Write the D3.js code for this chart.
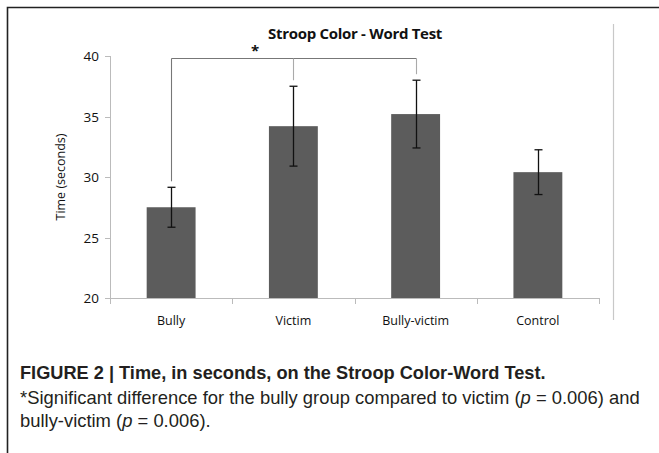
<!DOCTYPE html>
<html>
<head>
<meta charset="utf-8">
<script src="https://cdn.jsdelivr.net/npm/d3@7"></script>
<style>
  body { margin: 0; background: #fff; }
  svg { display: block; }
</style>
</head>
<body>
<script>
  const groups = ["Bully", "Victim", "Bully-victim", "Control"];
  const means = [27.5, 34.2, 35.2, 30.4];
  const errors = [1.65, 3.3, 2.8, 1.85];
  const yTicks = [20, 25, 30, 35, 40];
  // significance bracket: bully vs victim and bully-victim
  const sigFrom = "Bully";
  const sigTo = ["Victim", "Bully-victim"];

  const width = 659, height = 453;
  const svg = d3.select("body").append("svg")
    .attr("width", width)
    .attr("height", height);

  // frame
  svg.append("path")
    .attr("d", "M7.5,453V7.5H659")
    .attr("fill", "none")
    .attr("stroke", "#222")
    .attr("stroke-width", 1.6);

  svg.append("line")
    .attr("x1", 613.5).attr("x2", 613.5)
    .attr("y1", 24).attr("y2", 320)
    .attr("stroke", "#c8c8c8")
    .attr("stroke-width", 1.2);

  const x = d3.scaleBand()
    .domain(groups)
    .range([110, 599])
    .paddingInner(0.6)
    .paddingOuter(0.3);

  const y = d3.scaleLinear()
    .domain([20, 40])
    .range([298, 56]);

  const font = "'Open Sans', sans-serif";

  // title
  svg.append("text")
    .attr("x", 355).attr("y", 39)
    .attr("text-anchor", "middle")
    .style("font", `bold 15px ${font}`)
    .style("letter-spacing", "-0.3px")
    .attr("fill", "#111")
    .text("Stroop Color - Word Test");

  // y axis
  svg.append("line")
    .attr("x1", 110.5).attr("x2", 110.5)
    .attr("y1", y(40)).attr("y2", y(20))
    .attr("stroke", "#bbb");
  const yt = svg.append("g").selectAll("g").data(yTicks).join("g")
    .attr("transform", d => `translate(0,${Math.round(y(d)) + 0.5})`);
  yt.append("line").attr("x1", 105).attr("x2", 110.5).attr("stroke", "#bbb");
  yt.append("text")
    .attr("x", 99).attr("dy", "0.35em")
    .attr("text-anchor", "end")
    .style("font", `13.5px ${font}`)
    .attr("fill", "#111")
    .text(d => d);

  svg.append("text")
    .attr("transform", `translate(65,${(y(40) + y(20)) / 2}) rotate(-90)`)
    .attr("text-anchor", "middle")
    .style("font", `12.5px ${font}`)
    .attr("fill", "#111")
    .text("Time (seconds)");

  // x axis
  svg.append("line")
    .attr("x1", 110).attr("x2", 599)
    .attr("y1", 298.5).attr("y2", 298.5)
    .attr("stroke", "#bbb");
  const step = x.step();
  svg.append("g").selectAll("line")
    .data(d3.range(groups.length + 1))
    .join("line")
    .attr("x1", i => Math.round(110 + i * step) + 0.5)
    .attr("x2", i => Math.round(110 + i * step) + 0.5)
    .attr("y1", 298).attr("y2", 304)
    .attr("stroke", "#bbb");

  svg.append("g").selectAll("text")
    .data(groups)
    .join("text")
    .attr("x", d => x(d) + x.bandwidth() / 2)
    .attr("y", 325)
    .attr("text-anchor", "middle")
    .style("font", `12.5px ${font}`)
    .attr("fill", "#111")
    .text(d => d);

  // bars
  const rows = groups.map((g, i) => ({ g, m: means[i], e: errors[i] }));
  svg.append("g").selectAll("rect")
    .data(rows)
    .join("rect")
    .attr("x", d => x(d.g))
    .attr("y", d => y(d.m))
    .attr("width", x.bandwidth())
    .attr("height", d => y(20) - y(d.m))
    .attr("fill", "#5c5c5c");

  // error bars
  const eb = svg.append("g").attr("stroke", "#111").attr("stroke-width", 1.3);
  rows.forEach(d => {
    const cx = Math.round(x(d.g) + x.bandwidth() / 2) + 0.5;
    eb.append("line").attr("x1", cx).attr("x2", cx)
      .attr("y1", y(d.m + d.e)).attr("y2", y(d.m - d.e));
    [d.m + d.e, d.m - d.e].forEach(v => {
      eb.append("line").attr("x1", cx - 4).attr("x2", cx + 4)
        .attr("y1", y(v)).attr("y2", y(v));
    });
  });

  // significance bracket
  const cxOf = g => Math.round(x(g) + x.bandwidth() / 2) + 0.5;
  const topOf = g => { const i = groups.indexOf(g); return y(means[i] + errors[i]); };
  const by = Math.round(y(39.85)) + 0.5;
  const lastTo = sigTo[sigTo.length - 1];
  svg.append("line")
    .attr("x1", cxOf(sigFrom)).attr("x2", cxOf(lastTo))
    .attr("y1", by).attr("y2", by)
    .attr("stroke", "#777").attr("stroke-width", 1.1);
  [sigFrom].concat(sigTo).forEach(g => {
    svg.append("line")
      .attr("x1", cxOf(g)).attr("x2", cxOf(g))
      .attr("y1", by).attr("y2", topOf(g) - 6)
      .attr("stroke", g === sigFrom ? "#777" : "#aaa")
      .attr("stroke-width", 1.1);
  });
  svg.append("text")
    .attr("x", 255).attr("y", 56)
    .attr("text-anchor", "middle")
    .style("font", `bold 15px ${font}`)
    .attr("fill", "#111")
    .text("*");

  // caption
  const capFont = "'Liberation Sans', Arial, sans-serif";
  const cap = svg.append("g").attr("fill", "#231f20");
  cap.append("text")
    .attr("x", 20).attr("y", 379)
    .style("font", `bold 18.2px ${capFont}`)
    .text("FIGURE 2 | Time, in seconds, on the Stroop Color-Word Test.");
  const l2 = cap.append("text")
    .attr("x", 20).attr("y", 404)
    .style("font", `18.4px ${capFont}`);
  l2.append("tspan").text("*Significant difference for the bully group compared to victim (");
  l2.append("tspan").style("font-style", "italic").text("p");
  l2.append("tspan").text(" = 0.006) and");
  const l3 = cap.append("text")
    .attr("x", 20).attr("y", 427)
    .style("font", `18.4px ${capFont}`);
  l3.append("tspan").text("bully-victim (");
  l3.append("tspan").style("font-style", "italic").text("p");
  l3.append("tspan").text(" = 0.006).");
</script>
</body>
</html>
